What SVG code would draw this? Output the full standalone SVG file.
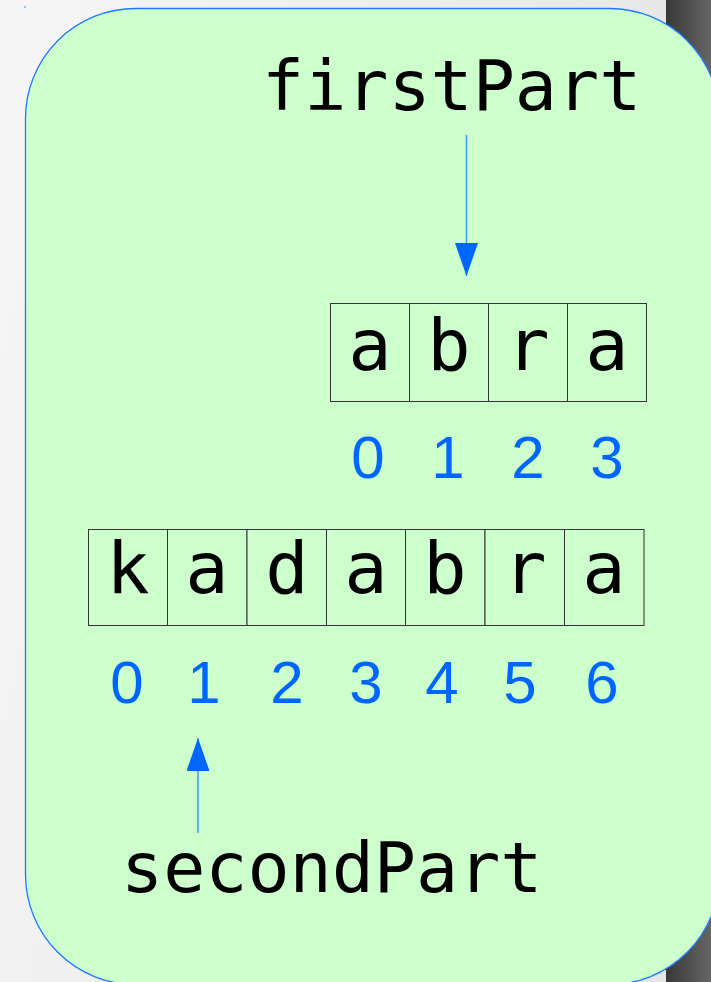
<svg xmlns="http://www.w3.org/2000/svg" width="711" height="982" viewBox="0 0 711 982">
<style>
.cell{fill:#ccffcc;stroke:#333333;stroke-width:1}
.ch{font-family:"DejaVu Sans Mono",monospace;font-size:72px;fill:#000000;text-anchor:middle}
.idx{font-family:"Liberation Sans",Arial,sans-serif;font-size:60px;fill:#0066ff;text-anchor:middle}
.lbl{font-family:"DejaVu Sans Mono",monospace;font-size:70px;fill:#000000}
.conn{stroke:#3d9bff;stroke-width:1.5;fill:none}
</style>
<defs>
<linearGradient id="bg" x1="0" y1="0" x2="1" y2="0.3">
<stop offset="0" stop-color="#f6f6f6"/>
<stop offset="1" stop-color="#e5e5e5"/>
</linearGradient>
<linearGradient id="band" x1="0" y1="0" x2="1" y2="0">
<stop offset="0" stop-color="#383838"/>
<stop offset="1" stop-color="#666666"/>
</linearGradient>
<marker id="ah" markerUnits="userSpaceOnUse" markerWidth="34" markerHeight="24" refX="33" refY="11.5" orient="auto">
<path d="M0,0 L33,11.5 L0,23 Z" fill="#0066ff"/>
</marker>
</defs>
<rect x="0" y="0" width="711" height="982" fill="url(#bg)"/>
<rect x="666" y="0" width="45" height="982" fill="url(#band)"/>
<rect x="24.5" y="6" width="1" height="2" fill="#3a86ff"/>
<g id="panel">
<rect x="25.5" y="8.5" width="694" height="976" rx="110" ry="110" fill="#ccffcc" stroke="#1f78ff" stroke-width="1.3"/>
</g>
<g id="firstPartLabel">
<text class="lbl" x="262" y="110">firstPart</text>
</g>
<g id="firstArray">
<rect class="cell" x="330.5" y="303.5" width="79" height="98"/>
<rect class="cell" x="409.5" y="303.5" width="79" height="98"/>
<rect class="cell" x="488.5" y="303.5" width="79" height="98"/>
<rect class="cell" x="567.5" y="303.5" width="79" height="98"/>
<text class="ch" x="370" y="370">a</text>
<text class="ch" x="449" y="370">b</text>
<text class="ch" x="528" y="370">r</text>
<text class="ch" x="607" y="370">a</text>
<text class="idx" x="368" y="478">0</text>
<text class="idx" x="448" y="478">1</text>
<text class="idx" x="528" y="478">2</text>
<text class="idx" x="607" y="478">3</text>
</g>
<g id="secondArray">
<rect class="cell" x="88.5" y="529.5" width="79" height="96"/>
<rect class="cell" x="167.5" y="529.5" width="79.5" height="96"/>
<rect class="cell" x="247" y="529.5" width="79.5" height="96"/>
<rect class="cell" x="326.5" y="529.5" width="79" height="96"/>
<rect class="cell" x="405.5" y="529.5" width="79.5" height="96"/>
<rect class="cell" x="485" y="529.5" width="79.5" height="96"/>
<rect class="cell" x="564.5" y="529.5" width="79.5" height="96"/>
<text class="ch" x="128" y="593">k</text>
<text class="ch" x="207" y="593">a</text>
<text class="ch" x="287" y="593">d</text>
<text class="ch" x="366" y="593">a</text>
<text class="ch" x="445" y="593">b</text>
<text class="ch" x="525" y="593">r</text>
<text class="ch" x="604" y="593">a</text>
<text class="idx" x="127" y="703">0</text>
<text class="idx" x="204" y="703">1</text>
<text class="idx" x="287" y="703">2</text>
<text class="idx" x="366" y="703">3</text>
<text class="idx" x="442" y="703">4</text>
<text class="idx" x="520" y="703">5</text>
<text class="idx" x="602" y="703">6</text>
</g>
<g id="secondPartLabel">
<text class="lbl" x="121" y="892">secondPart</text>
</g>
<g id="connectors">
<path class="conn" d="M466.5,135 L466.5,276" marker-end="url(#ah)"/>
<path class="conn" d="M198,833 L198,738" marker-end="url(#ah)"/>
</g>
</svg>
